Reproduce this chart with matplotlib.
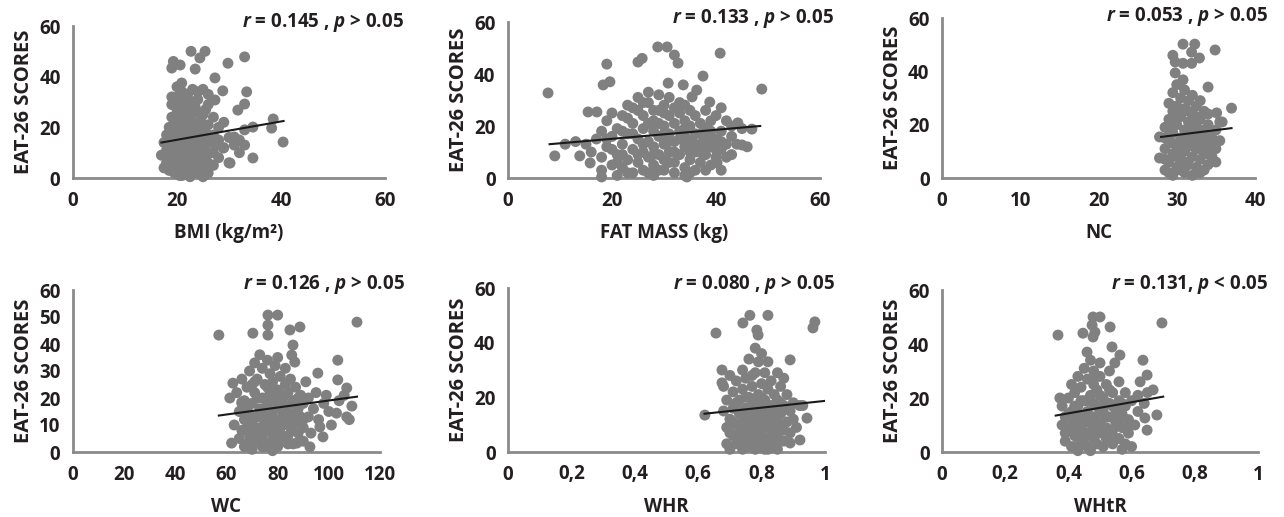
import matplotlib
matplotlib.use("Agg")
import matplotlib.pyplot as plt

plt.rcParams['font.family'] = ['Open Sans', 'DejaVu Sans']
plt.rcParams['mathtext.fontset'] = 'custom'
plt.rcParams['mathtext.it'] = 'Open Sans:italic:bold'
plt.rcParams['mathtext.rm'] = 'Open Sans:bold'

# ---- data ----
# BMI
bmi_x = [17, 17.5, 18, 18, 18, 18.5, 18.5, 19, 19, 19, 19, 19.5, 19.5, 20, 20, 20, 20, 20, 20,
         20.5, 20.5, 20.5, 21, 21, 21, 21, 21, 21, 21.5, 21.5, 22, 22, 22, 22, 22, 22, 22.5, 22.5,
         22.5, 23, 23, 23, 23, 23, 23, 23.5, 23.5, 24, 24, 24, 24, 24, 24, 24.5, 24.5, 25, 25, 25,
         25, 25, 25.5, 25.5, 26, 26, 26, 26, 26.5, 27, 27, 27, 27.5, 28, 28, 29, 29, 30, 30, 31, 32,
         33, 32,
         18.5, 19, 19.5, 20, 20.5, 21, 21.5, 22, 22.5, 23, 23.5, 24, 24.5, 25, 25.5, 26, 19, 20,
         21, 22, 23, 24, 25, 26, 20.5, 21.5, 22.5, 23.5, 24.5, 19.5, 21, 23, 25, 22, 24, 27, 28,
         26, 18, 17.5,
         22.7, 25.4, 24.4, 19.3, 20.6, 19, 23.5, 33, 29.8, 27.3, 33.4, 28.8, 27.3, 33, 31.7, 20.9,
         20, 38.5, 38.2, 34.6, 40.4, 34.6, 31, 33, 30.2, 28.9]
bmi_y = [9, 14, 6, 11, 17, 3, 20, 8, 13, 24, 32, 2, 17, 5, 10, 15, 20, 27, 36,
         1, 12, 23, 4, 8, 18, 25, 30, 34, 14, 21, 2, 6, 10, 16, 28, 33, 0.5, 19,
         24, 4, 8, 13, 22, 30, 35, 11, 17, 2, 6, 15, 20, 26, 31, 9, 23, 0.5, 4, 12,
         18, 35, 8, 27, 2, 14, 21, 33, 10, 5, 17, 24, 13, 8, 20, 12, 22, 6, 16, 13, 10,
         19, 15,
         7, 4, 22, 12, 7, 1, 26, 14, 11, 16, 28, 10, 3, 21, 15, 6, 29, 31,
         12, 21, 26, 13, 8, 29, 17, 3, 4, 6, 18, 9, 27, 19, 25, 32, 34, 10, 15,
         17, 14, 4,
         50, 50, 47.4, 46, 44.6, 43.4, 43, 47.8, 45.3, 39.5, 34, 34.4, 30.8, 29.2, 26.8, 37.5,
         32, 23.3, 19.7, 20.1, 14.2, 7.9, 16.2, 13, 5.9, 11.8]

# FAT MASS
fat_x = [11, 13, 15, 16, 17, 18, 18, 18, 19, 19, 20, 20, 20, 21, 21, 21, 22, 22, 22, 23, 23, 23,
         24, 24, 24, 25, 25, 25, 25, 26, 26, 26, 26, 27, 27, 27, 27, 28, 28, 28, 28, 28, 29, 29,
         29, 29, 30, 30, 30, 30, 30, 31, 31, 31, 31, 32, 32, 32, 32, 32, 33, 33, 33, 34, 34, 34,
         34, 34, 35, 35, 35, 35, 36, 36, 36, 36, 37, 37, 37, 38, 38, 38, 38, 39, 39, 39, 40, 40,
         40, 41, 41, 41, 42, 42, 43, 43, 43, 44, 45, 46,
         19, 20, 21, 22, 23, 24, 25, 26, 27, 28, 29, 30, 31, 32, 33, 34, 35, 36, 37, 38, 39, 40,
         41, 42, 23, 27, 31, 35, 39, 26, 30, 34, 38, 22, 29, 33, 37, 41, 24, 28,
         7.7, 9, 19, 18.3, 19.6, 25, 25.8, 28.8, 30.6, 32, 32.7, 40.8, 48.8, 37.5, 30.8, 33.7,
         15.4, 17.1, 13.8, 15.8, 46.9, 45, 44.2, 38.8, 36.3, 35.4, 40.2, 18, 34.4]
fat_y = [13, 14, 13, 10, 15, 3, 8, 18, 12, 22, 5, 16, 25, 1, 9, 19, 4, 13, 24, 7, 17, 28,
         2, 11, 21, 6, 15, 26, 31, 3, 10, 19, 24, 8, 14, 29, 33, 1, 5, 12, 18, 22, 9, 16,
         26, 32, 3, 7, 13, 20, 28, 10, 17, 24, 31, 2, 6, 14, 21, 27, 9, 18, 25, 1, 4, 12,
         16, 22, 7, 14, 20, 26, 3, 10, 17, 24, 6, 13, 21, 9, 16, 19, 26, 5, 12, 22, 8, 15,
         24, 11, 18, 27, 13, 22, 9, 16, 20, 13, 19, 12,
         15, 11, 6, 18, 2, 27, 9, 13, 21, 9, 3, 25, 6, 10, 29, 19, 2, 13, 17, 3, 18, 11,
         3, 8, 23, 2, 14, 10, 15, 29, 17, 28, 12, 9, 21, 15, 10, 14, 17, 26,
         32.7, 8.5, 43.8, 35.8, 37, 44.6, 46, 50.4, 50.4, 47.3, 44.2, 48, 34.2, 39.2, 36.5, 35.8,
         25.4, 25.4, 8.5, 5.8, 18.8, 12.7, 21.2, 29.2, 33.8, 31.2, 5.8, 0.4, 0.4]

# NC
nc_x = [28.5, 28.5, 28.5, 29, 29, 29, 29, 29.5, 29.5, 29.5, 29.5, 29.5, 30, 30, 30, 30, 30,
        30.5, 30.5, 30.5, 30.5, 31, 31, 31, 31, 31, 31.5, 31.5, 31.5, 31.5, 32, 32, 32, 32, 32,
        32.5, 32.5, 32.5, 32.5, 33, 33, 33, 33, 33, 33.5, 33.5, 33.5, 34, 34, 34, 34, 34.5, 34.5,
        35, 35, 35, 35.5, 35.5,
        28.5, 29, 29.5, 30, 30.5, 31, 31.5, 32, 32.5, 33, 33.5, 34, 34.5, 29, 30, 31, 32, 33,
        34, 30.5, 31.5, 32.5, 29.5, 33.5, 28.5,
        30.8, 32.3, 31.9, 34.9, 29.5, 29.8, 30.8, 31.9, 32.9, 29.8, 30.8, 34, 37, 35.1, 35.8,
        27.8, 27.8]
nc_y = [3, 11, 19, 6, 14, 22, 28, 1, 9, 17, 25, 32, 4, 12, 20, 27, 35,
        7, 15, 23, 30, 2, 10, 18, 26, 33, 5, 13, 21, 29, 1, 8, 16, 24, 31,
        4, 11, 19, 27, 2, 7, 14, 22, 29, 10, 17, 25, 5, 13, 20, 24, 8, 15,
        11, 18, 6, 14, 21,
        15, 18, 13, 8, 11, 6, 17, 12, 23, 18, 3, 9, 12, 2, 24, 14, 20, 11,
        16, 3, 25, 15, 21, 13, 7,
        50.2, 50.2, 47.2, 48, 46, 43.5, 43, 43, 45, 39.4, 36.8, 34.1, 26.2, 24.4, 21,
        15.4, 7.5]

# WC
wc_x = [63, 64, 65, 65, 66, 66, 67, 67, 68, 68, 68, 69, 69, 69, 70, 70, 70, 71, 71, 71, 72, 72,
        72, 73, 73, 73, 74, 74, 74, 74, 75, 75, 75, 76, 76, 76, 76, 77, 77, 77, 78, 78, 78, 78,
        79, 79, 79, 80, 80, 80, 80, 81, 81, 81, 82, 82, 82, 83, 83, 83, 84, 84, 84, 85, 85, 85,
        86, 86, 87, 87, 88, 88, 89, 89, 90, 90, 90, 91, 92, 92, 93, 94, 95, 96, 98, 99, 100, 101,
        104, 106, 108, 109,
        66, 68, 70, 72, 74, 76, 78, 80, 82, 84, 86, 88, 70, 74, 78, 82, 86, 90, 72, 76, 80, 84,
        88, 75, 79, 83, 67, 71, 77, 81,
        57, 70.3, 76.2, 80, 76.2, 76.2, 84.8, 88.7, 111, 86, 85.5, 86.7, 103.5, 95.7, 103.5, 107,
        62.5, 61.3, 66, 103, 107, 96.5, 97.7, 62, 69, 87.5, 92.6]
wc_y = [10, 22, 5, 15, 8, 27, 12, 19, 3, 9, 24, 6, 14, 30, 1, 11, 18, 7, 22, 33, 4, 13,
        27, 9, 16, 36, 2, 6, 20, 31, 11, 14, 25, 3, 8, 18, 34, 12, 22, 29, 0.5, 5, 15, 26,
        9, 19, 32, 2, 12, 23, 35, 7, 16, 28, 4, 10, 20, 13, 25, 31, 6, 17, 22, 9, 14, 27,
        3, 19, 11, 24, 7, 16, 13, 21, 4, 9, 18, 26, 13, 20, 7, 16, 22, 12, 18, 21, 15, 10,
        19, 21, 12, 17,
        18, 16, 4, 20, 14, 12, 10, 6, 15, 11, 8, 13, 25, 9, 20, 18, 14, 12, 8, 24, 17, 3,
        20, 2, 6, 5, 2, 26, 2, 21,
        43.3, 44, 50.7, 50.7, 47, 43.3, 45.2, 46.3, 48.1, 39.6, 35.9, 33.3, 34, 29.2, 26.7, 23.7,
        25.5, 20, 18.5, 14.4, 13, 9.3, 5.6, 3.3, 1.9, 3.3, 1.9]

# WHR
whr_x = [0.68, 0.68, 0.69, 0.69, 0.69, 0.70, 0.70, 0.70, 0.71, 0.71, 0.71, 0.72, 0.72, 0.72,
         0.73, 0.73, 0.73, 0.74, 0.74, 0.74, 0.74, 0.75, 0.75, 0.75, 0.75, 0.76, 0.76, 0.76, 0.76,
         0.77, 0.77, 0.77, 0.77, 0.78, 0.78, 0.78, 0.78, 0.78, 0.79, 0.79, 0.79, 0.79, 0.80, 0.80,
         0.80, 0.80, 0.80, 0.81, 0.81, 0.81, 0.81, 0.82, 0.82, 0.82, 0.82, 0.83, 0.83, 0.83, 0.83,
         0.84, 0.84, 0.84, 0.85, 0.85, 0.85, 0.85, 0.86, 0.86, 0.86, 0.87, 0.87, 0.87, 0.88, 0.88,
         0.89, 0.89, 0.90, 0.90, 0.91, 0.92, 0.93,
         0.70, 0.71, 0.72, 0.73, 0.74, 0.75, 0.76, 0.77, 0.78, 0.79, 0.80, 0.81, 0.82, 0.83, 0.84,
         0.85, 0.86, 0.87, 0.72, 0.74, 0.76, 0.78, 0.80, 0.82, 0.84, 0.86, 0.75, 0.79, 0.83, 0.77,
         0.656, 0.763, 0.820, 0.741, 0.785, 0.789, 0.968, 0.962, 0.89, 0.621, 0.943, 0.921, 0.89,
         0.675, 0.675]
whr_y = [15, 24, 3, 9, 19, 1, 12, 28, 6, 16, 22, 3, 10, 26,
         7, 14, 19, 1, 11, 23, 30, 4, 8, 16, 27, 2, 13, 20, 34,
         6, 10, 17, 24, 1, 4, 14, 29, 38, 8, 12, 21, 33, 3, 6,
         16, 25, 36, 1, 10, 19, 29, 5, 13, 23, 33, 2, 8, 17, 26,
         11, 15, 21, 1, 6, 19, 29, 9, 14, 24, 4, 17, 27, 11, 21,
         7, 15, 12, 18, 9, 17, 17,
         7, 11, 18, 3, 15, 12, 6, 14, 9, 4, 11, 14, 9, 12, 5,
         11, 4, 8, 6, 5, 9, 19, 20, 1, 8, 18, 20, 17, 4, 28,
         43.5, 50, 50, 47.2, 44.6, 42.8, 47.6, 45.4, 33.7, 13.5, 12.4, 4.4, 3.3,
         30, 25.3]

# WHtR
whtr_x = [0.38, 0.38, 0.39, 0.39, 0.40, 0.40, 0.41, 0.41, 0.41, 0.42, 0.42, 0.42, 0.43, 0.43,
          0.43, 0.43, 0.44, 0.44, 0.44, 0.45, 0.45, 0.45, 0.46, 0.46, 0.46, 0.46, 0.47, 0.47,
          0.47, 0.47, 0.48, 0.48, 0.48, 0.48, 0.49, 0.49, 0.49, 0.50, 0.50, 0.50, 0.50, 0.51,
          0.51, 0.51, 0.52, 0.52, 0.52, 0.53, 0.53, 0.53, 0.54, 0.54, 0.54, 0.55, 0.55, 0.56,
          0.56, 0.56, 0.57, 0.57, 0.57, 0.58, 0.58, 0.58, 0.59, 0.59, 0.60, 0.60, 0.61, 0.62,
          0.62, 0.64, 0.65,
          0.39, 0.40, 0.41, 0.42, 0.43, 0.44, 0.45, 0.46, 0.47, 0.48, 0.49, 0.50, 0.51, 0.52,
          0.53, 0.54, 0.55, 0.56, 0.57, 0.58, 0.42, 0.44, 0.46, 0.48, 0.50, 0.52, 0.54, 0.45,
          0.49, 0.53,
          0.367, 0.478, 0.5, 0.475, 0.446, 0.484, 0.532, 0.478, 0.696, 0.538, 0.563, 0.547,
          0.636, 0.649, 0.627, 0.668, 0.642, 0.680, 0.649, 0.459, 0.373]
whtr_y = [10, 17, 4, 13, 8, 20, 2, 15, 25, 6, 11, 22, 0.5, 9,
          17, 28, 4, 13, 24, 7, 19, 31, 2, 11, 15, 27, 0.5, 6,
          21, 34, 9, 13, 25, 30, 3, 17, 23, 7, 11, 28, 33, 2,
          15, 20, 5, 9, 25, 13, 18, 30, 3, 8, 22, 11, 16, 5,
          19, 26, 1, 9, 14, 3, 17, 22, 7, 12, 2, 19, 10, 15,
          21, 18, 22,
          7, 14, 10, 17, 13, 9, 3, 19, 11, 5, 10, 15, 9, 18,
          8, 13, 5, 12, 18, 9, 2, 19, 7, 18, 21, 13, 17, 12,
          28, 23,
          43.3, 50, 50, 47, 44, 44.4, 46.3, 42.6, 47.8, 38.9, 35.9, 33,
          34, 28.5, 26, 23, 12.6, 13.7, 8.1, 37, 20]

# trend line end points
fit_x = [[17, 40.5], [8, 48.5], [28, 37], [57, 111], [0.62, 1.0], [0.36, 0.70]]
fit_y = [[14, 22.5], [13, 20], [15.4, 18.7], [13.5, 20.5], [14, 18.7], [13.5, 20.5]]

xlabels = ['BMI (kg/m²)', 'FAT MASS (kg)', 'NC', 'WC', 'WHR', 'WHtR']
xticks = [[0, 20, 40, 60], [0, 20, 40, 60], [0, 10, 20, 30, 40],
          [0, 20, 40, 60, 80, 100, 120], [0, 0.2, 0.4, 0.6, 0.8, 1.0], [0, 0.2, 0.4, 0.6, 0.8, 1.0]]
xticklabels = [['0', '20', '40', '60'], ['0', '20', '40', '60'], ['0', '10', '20', '30', '40'],
               ['0', '20', '40', '60', '80', '100', '120'],
               ['0', '0,2', '0,4', '0,6', '0,8', '1'], ['0', '0,2', '0,4', '0,6', '0,8', '1']]
yticks = [[0, 20, 40, 60], [0, 20, 40, 60], [0, 20, 40, 60],
          [0, 10, 20, 30, 40, 50, 60], [0, 20, 40, 60], [0, 20, 40, 60]]
stats = [r'$r$ = 0.145 , $p$ > 0.05', r'$r$ = 0.133 , $p$ > 0.05', r'$r$ = 0.053 , $p$ > 0.05',
         r'$r$ = 0.126 , $p$ > 0.05', r'$r$ = 0.080 , $p$ > 0.05', r'$r$ = 0.131, $p$ < 0.05']

xs = [bmi_x, fat_x, nc_x, wc_x, whr_x, whtr_x]
ys = [bmi_y, fat_y, nc_y, wc_y, whr_y, whtr_y]

# ---- layout (pixel boxes: left, right, top, bottom) ----
W, H = 1284, 517
boxes = [(73, 385, 26, 178), (508, 820, 22, 178), (942, 1255, 18, 178),
         (73, 380, 290, 452), (508, 825, 288, 452), (942, 1258, 290, 452)]
stat_pos = [(404, 22), (834, 19), (1268, 17), (405, 284), (835, 284), (1268, 284)]

txt = '#231f20'
fs = 13.5
fig = plt.figure(figsize=(W / 100, H / 100), dpi=100)

for i in range(6):
    l, r, t, b = boxes[i]
    ax = fig.add_axes([l / W, 1 - b / H, (r - l) / W, (b - t) / H])
    ax.scatter(xs[i], ys[i], s=62, color='#808080', edgecolors='none', zorder=2, clip_on=False)
    ax.plot(fit_x[i], fit_y[i], color='#1a1a1a', lw=1.5, zorder=3)
    ax.set_xlim(xticks[i][0], xticks[i][-1])
    ax.set_ylim(0, 60)
    ax.set_xticks(xticks[i])
    ax.set_xticklabels(xticklabels[i])
    ax.set_yticks(yticks[i])
    for s in ['top', 'right']:
        ax.spines[s].set_visible(False)
    for s in ['left', 'bottom']:
        ax.spines[s].set_color('#8a8a8a')
        ax.spines[s].set_linewidth(2)
        ax.spines[s].set_zorder(1)
    ax.tick_params(length=0, labelsize=fs, colors=txt, pad=9)
    for lab in ax.get_xticklabels() + ax.get_yticklabels():
        lab.set_fontweight('bold')
    ax.set_xlabel(xlabels[i], fontsize=fs, fontweight='bold', color=txt, labelpad=9)
    ax.set_ylabel('EAT-26 SCORES', fontsize=14.5, fontweight='bold', color=txt, labelpad=4)
    ax.patch.set_alpha(0)
    sx, sy = stat_pos[i]
    fig.text(sx / W, 1 - sy / H, stats[i], ha='right', va='center', fontsize=fs,
             fontweight='bold', color=txt)

fig.savefig('out.png', dpi=100)
